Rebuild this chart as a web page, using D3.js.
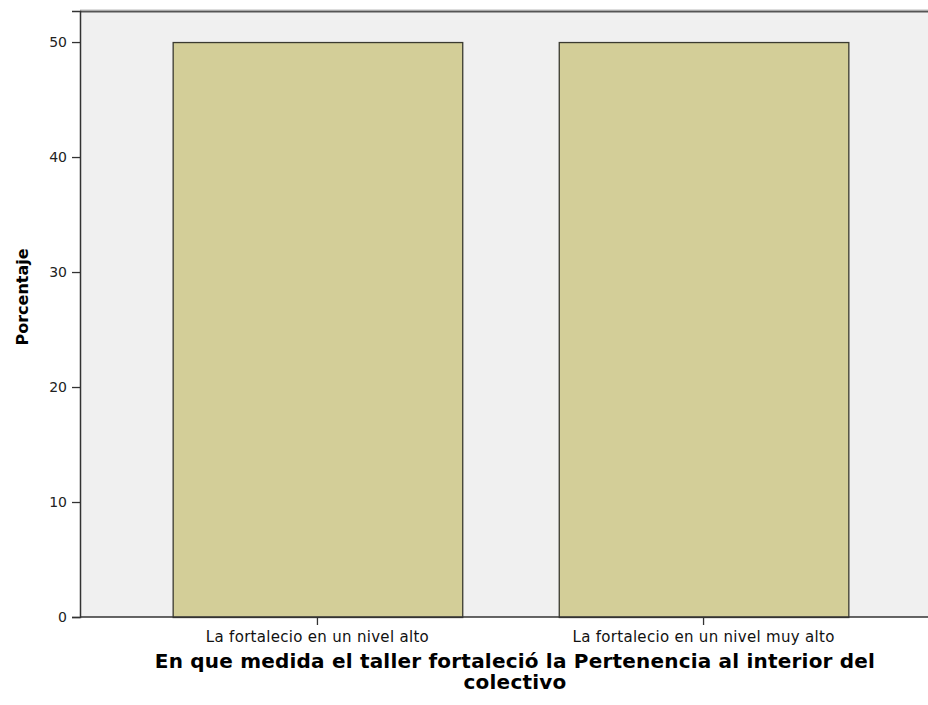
<!DOCTYPE html>
<html>
<head>
<meta charset="utf-8">
<script src="https://cdn.jsdelivr.net/npm/d3@7"></script>
<style>
  body { margin: 0; background: #fff; }
  svg { display: block; font-family: "DejaVu Sans", sans-serif; }
</style>
</head>
<body>
<div id="chart"></div>
<script>
const categories = ["La fortalecio en un nivel alto", "La fortalecio en un nivel muy alto"];
const percentages = [50, 50];
const yTicks = [0, 10, 20, 30, 40, 50];
const chartTitle = "En que medida el taller fortaleció la Pertenencia al interior del colectivo";
const xTitleLines = ["En que medida el taller fortaleció la Pertenencia al interior del", "colectivo"];
const yTitle = "Porcentaje";

const width = 928, height = 705;
const margin = {top: 11, left: 80, bottom: 88, right: -13};

const svg = d3.select("#chart").append("svg")
    .attr("width", width)
    .attr("height", height);

const x = d3.scaleBand()
    .domain(categories)
    .range([margin.left, width - margin.right])
    .paddingInner(0.25)
    .paddingOuter(0.24);

const y = d3.scaleLinear()
    .domain([0, 52.7])
    .range([height - margin.bottom, margin.top]);

// plot background
svg.append("rect")
    .attr("x", margin.left)
    .attr("y", margin.top)
    .attr("width", width - margin.left - margin.right)
    .attr("height", y(0) - margin.top)
    .attr("fill", "#f0f0f0");

// top frame line
svg.append("line")
    .attr("x1", margin.left).attr("x2", width)
    .attr("y1", margin.top - 1.5).attr("y2", margin.top - 1.5)
    .attr("stroke", "#ddd").attr("stroke-width", 1);
svg.append("line")
    .attr("x1", margin.left).attr("x2", width)
    .attr("y1", margin.top + 0.5).attr("y2", margin.top + 0.5)
    .attr("stroke", "#555").attr("stroke-width", 2);

// bars
svg.append("g").selectAll("rect")
    .data(percentages)
    .join("rect")
    .attr("x", (d, i) => x(categories[i]) + 0.5)
    .attr("y", d => y(d) + 0.5)
    .attr("width", x.bandwidth())
    .attr("height", d => y(0) - y(d))
    .attr("fill", "#d3ce98")
    .attr("stroke", "#3a3a30")
    .attr("stroke-width", 1.3);

// y axis
const yAxis = svg.append("g")
    .attr("transform", `translate(${margin.left},0)`)
    .call(d3.axisLeft(y).tickValues(yTicks).tickSize(8).tickPadding(5));
yAxis.select(".domain").attr("stroke", "#333").attr("stroke-width", 1.5);
yAxis.selectAll(".tick line").attr("stroke", "#333").attr("stroke-width", 1.3);
yAxis.selectAll(".tick text")
    .attr("font-size", 14)
    .attr("fill", "#222")
    .style("font-family", "'DejaVu Sans', sans-serif");

// x axis
const xAxis = svg.append("g")
    .attr("transform", `translate(0,${y(0)})`)
    .call(d3.axisBottom(x).tickSize(8).tickPadding(6));
xAxis.select(".domain")
    .attr("d", `M${margin.left},0H${width}`)
    .attr("stroke", "#333").attr("stroke-width", 1.5);
xAxis.selectAll(".tick line").attr("stroke", "#333").attr("stroke-width", 1.3);
xAxis.selectAll(".tick text")
    .attr("font-size", 15)
    .attr("fill", "#111")
    .style("letter-spacing", "0.3px")
    .style("font-family", "'DejaVu Sans', sans-serif");

// chart title (mostly clipped at the top edge)
svg.append("text")
    .attr("x", 75)
    .attr("y", -4)
    .attr("font-weight", "bold")
    .attr("font-size", 21)
    .attr("fill", "#000")
    .text(chartTitle);

// x axis title
svg.append("text")
    .attr("text-anchor", "middle")
    .attr("font-weight", "bold")
    .attr("font-size", 20)
    .attr("fill", "#000")
    .style("letter-spacing", "0.2px")
    .selectAll("tspan")
    .data(xTitleLines)
    .join("tspan")
    .attr("x", 515)
    .attr("y", (d, i) => 668 + i * 21)
    .text(d => d);

// y axis title
svg.append("text")
    .attr("transform", "translate(28,297) rotate(-90)")
    .attr("text-anchor", "middle")
    .attr("font-weight", "bold")
    .attr("font-size", 16)
    .attr("fill", "#000")
    .text(yTitle);
</script>
</body>
</html>
